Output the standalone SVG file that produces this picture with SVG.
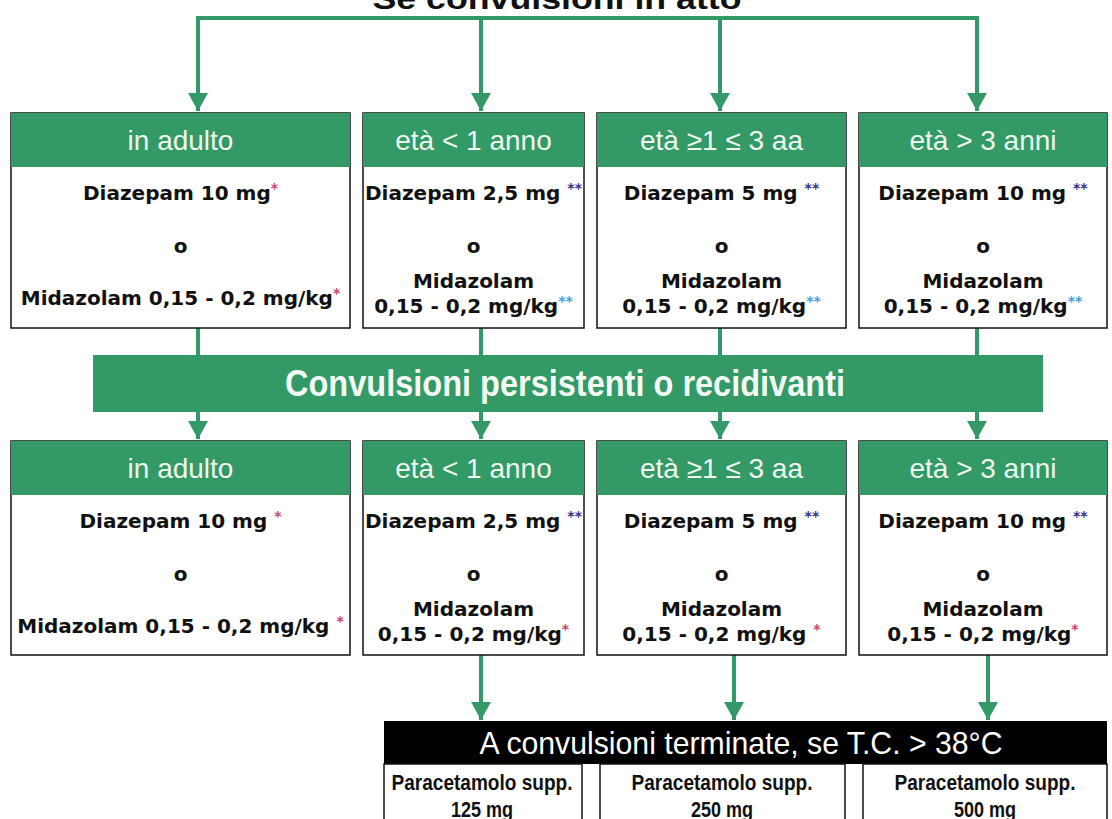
<svg xmlns="http://www.w3.org/2000/svg" width="1112" height="819" viewBox="0 0 1112 819">
<style>
.box{fill:#fff;stroke:#111;stroke-width:1.5}
.hdr{fill:#339966}
.htxt{font-family:"Liberation Sans",Arial,sans-serif;font-size:28px;fill:#eef8ee;text-anchor:middle}
.btxt{font-family:"DejaVu Sans",sans-serif;font-weight:bold;font-size:20px;fill:#111;text-anchor:middle}
.r{fill:#d0406a;font-size:14px}
.n{fill:#303088;font-size:14px}
.lb{fill:#40a0e0;font-size:14px}
.ln{fill:none;stroke:#339966;stroke-width:4}
.ptxt{font-family:"Liberation Sans",Arial,sans-serif;font-weight:bold;font-size:22px;fill:#111;text-anchor:middle}
</style>
<defs>
<marker id="ah" markerUnits="userSpaceOnUse" markerWidth="20" markerHeight="20" refX="18" refY="10" orient="auto" viewBox="0 0 20 20">
<path d="M0,0 L18,10 L0,20 z" fill="#339966"/>
</marker>
</defs>
<rect width="1112" height="819" fill="#fff"/>
<text x="557" y="9" font-family="Liberation Sans,Arial,sans-serif" font-weight="bold" font-size="30" text-anchor="middle" textLength="369" lengthAdjust="spacingAndGlyphs" fill="#111">Se convulsioni in atto</text>

<g id="connectors">
<path class="ln" d="M198,18 H977"/>
<path class="ln" d="M198,16 V111" marker-end="url(#ah)"/>
<path class="ln" d="M481,18 V111" marker-end="url(#ah)"/>
<path class="ln" d="M720,18 V111" marker-end="url(#ah)"/>
<path class="ln" d="M977,16 V111" marker-end="url(#ah)"/>
<path class="ln" d="M198,328 V355 M481,328 V355 M720,328 V355 M977,328 V355"/>
<path class="ln" d="M198,412 V439" marker-end="url(#ah)"/>
<path class="ln" d="M481,412 V439" marker-end="url(#ah)"/>
<path class="ln" d="M720,412 V439" marker-end="url(#ah)"/>
<path class="ln" d="M977,412 V439" marker-end="url(#ah)"/>
<path class="ln" d="M481,655 V720" marker-end="url(#ah)"/>
<path class="ln" d="M734,655 V720" marker-end="url(#ah)"/>
<path class="ln" d="M988,655 V720" marker-end="url(#ah)"/>
</g>

<g id="r1-adulto">
<rect class="box" x="11" y="113" width="339" height="215"/>
<rect class="hdr" x="11" y="113" width="339" height="54"/>
<text class="htxt" x="180.5" y="150">in adulto</text>
<text class="btxt" x="180.5" y="200">Diazepam 10 mg<tspan class="r" dy="-7">*</tspan></text>
<text class="btxt" x="180.5" y="253">o</text>
<text class="btxt" x="180.5" y="305">Midazolam 0,15 - 0,2 mg/kg<tspan class="r" dy="-7">*</tspan></text>
</g>
<g id="r1-lt1">
<rect class="box" x="363" y="113" width="221" height="215"/>
<rect class="hdr" x="363" y="113" width="221" height="54"/>
<text class="htxt" x="473.5" y="150">età &lt; 1 anno</text>
<text class="btxt" x="473.5" y="200">Diazepam 2,5 mg <tspan class="n" dy="-7">**</tspan></text>
<text class="btxt" x="473.5" y="253">o</text>
<text class="btxt" x="473.5" y="288">Midazolam</text>
<text class="btxt" x="473.5" y="313">0,15 - 0,2 mg/kg<tspan class="lb" dy="-7">**</tspan></text>
</g>
<g id="r1-1to3">
<rect class="box" x="597" y="113" width="249" height="215"/>
<rect class="hdr" x="597" y="113" width="249" height="54"/>
<text class="htxt" x="721.5" y="150">età  ≥1 ≤ 3 aa</text>
<text class="btxt" x="721.5" y="200">Diazepam 5 mg <tspan class="n" dy="-7">**</tspan></text>
<text class="btxt" x="721.5" y="253">o</text>
<text class="btxt" x="721.5" y="288">Midazolam</text>
<text class="btxt" x="721.5" y="313">0,15 - 0,2 mg/kg<tspan class="lb" dy="-7">**</tspan></text>
</g>
<g id="r1-gt3">
<rect class="box" x="859" y="113" width="248" height="215"/>
<rect class="hdr" x="859" y="113" width="248" height="54"/>
<text class="htxt" x="983" y="150">età &gt; 3 anni</text>
<text class="btxt" x="983" y="200">Diazepam 10 mg <tspan class="n" dy="-7">**</tspan></text>
<text class="btxt" x="983" y="253">o</text>
<text class="btxt" x="983" y="288">Midazolam</text>
<text class="btxt" x="983" y="313">0,15 - 0,2 mg/kg<tspan class="lb" dy="-7">**</tspan></text>
</g>

<g id="banner">
<rect x="93" y="355" width="950" height="57" fill="#339966"/>
<text x="565" y="396" font-family="Liberation Sans,Arial,sans-serif" font-weight="bold" font-size="37" fill="#f4fbf4" text-anchor="middle" textLength="560" lengthAdjust="spacingAndGlyphs">Convulsioni persistenti o recidivanti</text>
</g>

<g id="r2-adulto">
<rect class="box" x="11" y="441" width="339" height="214"/>
<rect class="hdr" x="11" y="441" width="339" height="54"/>
<text class="htxt" x="180.5" y="478">in adulto</text>
<text class="btxt" x="180.5" y="528">Diazepam 10 mg <tspan class="r" dy="-7">*</tspan></text>
<text class="btxt" x="180.5" y="581">o</text>
<text class="btxt" x="180.5" y="633">Midazolam 0,15 - 0,2 mg/kg <tspan class="r" dy="-7">*</tspan></text>
</g>
<g id="r2-lt1">
<rect class="box" x="363" y="441" width="221" height="214"/>
<rect class="hdr" x="363" y="441" width="221" height="54"/>
<text class="htxt" x="473.5" y="478">età &lt; 1 anno</text>
<text class="btxt" x="473.5" y="528">Diazepam 2,5 mg <tspan class="n" dy="-7">**</tspan></text>
<text class="btxt" x="473.5" y="581">o</text>
<text class="btxt" x="473.5" y="616">Midazolam</text>
<text class="btxt" x="473.5" y="641">0,15 - 0,2 mg/kg<tspan class="r" dy="-7">*</tspan></text>
</g>
<g id="r2-1to3">
<rect class="box" x="597" y="441" width="249" height="214"/>
<rect class="hdr" x="597" y="441" width="249" height="54"/>
<text class="htxt" x="721.5" y="478">età  ≥1 ≤ 3 aa</text>
<text class="btxt" x="721.5" y="528">Diazepam 5 mg <tspan class="n" dy="-7">**</tspan></text>
<text class="btxt" x="721.5" y="581">o</text>
<text class="btxt" x="721.5" y="616">Midazolam</text>
<text class="btxt" x="721.5" y="641">0,15 - 0,2 mg/kg <tspan class="r" dy="-7">*</tspan></text>
</g>
<g id="r2-gt3">
<rect class="box" x="859" y="441" width="248" height="214"/>
<rect class="hdr" x="859" y="441" width="248" height="54"/>
<text class="htxt" x="983" y="478">età &gt; 3 anni</text>
<text class="btxt" x="983" y="528">Diazepam 10 mg <tspan class="n" dy="-7">**</tspan></text>
<text class="btxt" x="983" y="581">o</text>
<text class="btxt" x="983" y="616">Midazolam</text>
<text class="btxt" x="983" y="641">0,15 - 0,2 mg/kg<tspan class="r" dy="-7">*</tspan></text>
</g>

<g id="fever-bar">
<rect x="384" y="721" width="723" height="43" fill="#000"/>
<text x="741" y="754" font-family="Liberation Sans,Arial,sans-serif" font-size="32" fill="#fff" text-anchor="middle" textLength="523" lengthAdjust="spacingAndGlyphs">A convulsioni terminate, se T.C. &gt; 38°C</text>
</g>
<g id="para-125">
<rect class="box" x="384" y="764" width="198" height="70"/>
<text class="ptxt" x="482" y="790" textLength="181" lengthAdjust="spacingAndGlyphs">Paracetamolo supp.</text>
<text class="ptxt" x="482" y="817" textLength="62" lengthAdjust="spacingAndGlyphs">125 mg</text>
</g>
<g id="para-250">
<rect class="box" x="600" y="764" width="245" height="70"/>
<text class="ptxt" x="722" y="790" textLength="181" lengthAdjust="spacingAndGlyphs">Paracetamolo supp.</text>
<text class="ptxt" x="722" y="817" textLength="62" lengthAdjust="spacingAndGlyphs">250 mg</text>
</g>
<g id="para-500">
<rect class="box" x="863" y="764" width="244" height="70"/>
<text class="ptxt" x="985" y="790" textLength="181" lengthAdjust="spacingAndGlyphs">Paracetamolo supp.</text>
<text class="ptxt" x="985" y="817" textLength="62" lengthAdjust="spacingAndGlyphs">500 mg</text>
</g>
</svg>
